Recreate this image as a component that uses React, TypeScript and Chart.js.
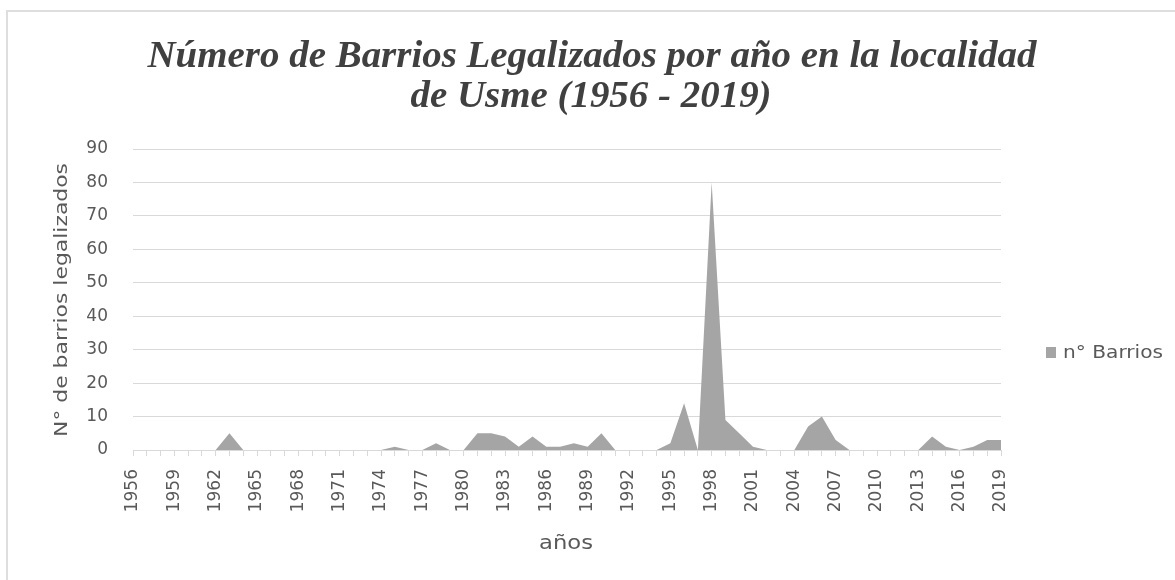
import React, { useEffect, useRef } from "react";
import { Chart, registerables } from "chart.js";

Chart.register(...registerables);

const YEARS: string[] = [
  "1956","1957","1958","1959","1960","1961","1962","1963","1964","1965",
  "1966","1967","1968","1969","1970","1971","1972","1973","1974","1975",
  "1976","1977","1978","1979","1980","1981","1982","1983","1984","1985",
  "1986","1987","1988","1989","1990","1991","1992","1993","1994","1995",
  "1996","1997","1998","1999","2000","2001","2002","2003","2004","2005",
  "2006","2007","2008","2009","2010","2011","2012","2013","2014","2015",
  "2016","2017","2018","2019",
];

const BARRIOS: number[] = [
  0, 0, 0, 0, 0, 0, 0, 5, 0, 0,
  0, 0, 0, 0, 0, 0, 0, 0, 0, 1,
  0, 0, 2, 0, 0, 5, 5, 4, 1, 4,
  1, 1, 2, 1, 5, 0, 0, 0, 0, 2,
  14, 0, 80, 9, 5, 1, 0, 0, 0, 7,
  10, 3, 0, 0, 0, 0, 0, 0, 4, 1,
  0, 1, 3, 3,
];

const TITLE_LINES: string[] = [
  "Número de Barrios Legalizados por año en la localidad",
  "de Usme (1956 - 2019)",
];
const SERIES_NAME = "n° Barrios";
const Y_TITLE = "N° de barrios legalizados";
const X_TITLE = "años";

const FILL = "#a5a5a5";
const TEXT = "#595959";
const GRID = "#d9d9d9";

function drawStretched(
  ctx: CanvasRenderingContext2D,
  text: string,
  cx: number,
  cy: number,
  targetWidth: number,
  font: string,
  color: string,
  rotate = 0,
  align: "center" | "left" = "center",
  baseline: CanvasTextBaseline = "middle"
) {
  ctx.save();
  ctx.font = font;
  ctx.fillStyle = color;
  ctx.textBaseline = baseline;
  ctx.textAlign = align;
  const w = ctx.measureText(text).width;
  const sx = targetWidth / w;
  ctx.translate(cx, cy);
  if (rotate) ctx.rotate(rotate);
  ctx.scale(sx, 1);
  ctx.fillText(text, 0, 0);
  ctx.restore();
}

const decorPlugin = {
  id: "decor",
  afterDraw(chart: any) {
    const ctx: CanvasRenderingContext2D = chart.ctx;
    const tFont = "italic bold 38px 'Liberation Serif'";
    ctx.save();
    ctx.font = tFont;
    const w1 = ctx.measureText(TITLE_LINES[0]).width;
    const w2raw = ctx.measureText(TITLE_LINES[1]).width;
    ctx.restore();
    const sx = 889 / w1;
    drawStretched(ctx, TITLE_LINES[0], 592, 67, 889, tFont, "#404040", 0, "center", "alphabetic");
    drawStretched(ctx, TITLE_LINES[1], 591, 107, w2raw * sx, tFont, "#404040", 0, "center", "alphabetic");

    drawStretched(ctx, Y_TITLE, 62, 300, 274, "18px 'DejaVu Sans'", TEXT, -Math.PI / 2);
    drawStretched(ctx, X_TITLE, 566, 544, 54, "19px 'DejaVu Sans'", TEXT);

    ctx.save();
    ctx.fillStyle = FILL;
    ctx.fillRect(1046, 347, 10, 11);
    ctx.restore();
    drawStretched(ctx, SERIES_NAME, 1063, 353, 100, "18px 'DejaVu Sans'", TEXT, 0, "left");
  },
};

export default function App() {
  const ref = useRef<HTMLCanvasElement | null>(null);

  useEffect(() => {
    if (!ref.current) return;
    const chart = new Chart(ref.current, {
      type: "line",
      data: {
        labels: YEARS,
        datasets: [
          {
            label: SERIES_NAME,
            data: BARRIOS,
            fill: "origin",
            backgroundColor: FILL,
            borderColor: FILL,
            borderWidth: 0,
            pointRadius: 0,
            tension: 0,
          },
        ],
      },
      options: {
        animation: false,
        responsive: false,
        devicePixelRatio: 1,
        layout: { padding: { top: 149, right: 174, left: 0, bottom: 0 } },
        plugins: {
          legend: { display: false },
          title: { display: false },
          tooltip: { enabled: false },
        },
        scales: {
          x: {
            offset: false,
            grid: {
              display: true,
              drawOnChartArea: false,
              drawTicks: true,
              tickLength: 6,
              color: GRID,
            },
            border: { display: true, color: GRID, width: 1 },
            ticks: {
              autoSkip: false,
              maxRotation: 90,
              minRotation: 90,
              padding: 13,
              color: TEXT,
              font: { family: "'DejaVu Sans'", size: 17 },
              callback: (_v: any, i: number) => (i % 3 === 0 ? YEARS[i] : ""),
            },
            afterFit: (s: any) => {
              s.height = 130;
            },
          },
          y: {
            min: 0,
            max: 90,
            grid: { color: GRID, drawTicks: false },
            border: { display: false },
            ticks: {
              stepSize: 10,
              padding: 25,
              color: TEXT,
              font: { family: "'DejaVu Sans'", size: 17 },
            },
            afterFit: (s: any) => {
              s.width = 133;
            },
          },
        },
      },
      plugins: [decorPlugin],
    });
    return () => chart.destroy();
  }, []);

  return (
    <div style={{ position: "fixed", left: 0, top: 0, width: 1175, height: 580, background: "#fff", overflow: "hidden" }}>
      <div
        style={{
          position: "absolute",
          left: 6,
          top: 10,
          width: 1300,
          height: 700,
          border: "2px solid #dedede",
          boxSizing: "border-box",
        }}
      />
      <canvas
        ref={ref}
        width={1175}
        height={580}
        style={{ position: "absolute", left: 0, top: 0, width: 1175, height: 580, display: "block" }}
      />
    </div>
  );
}
